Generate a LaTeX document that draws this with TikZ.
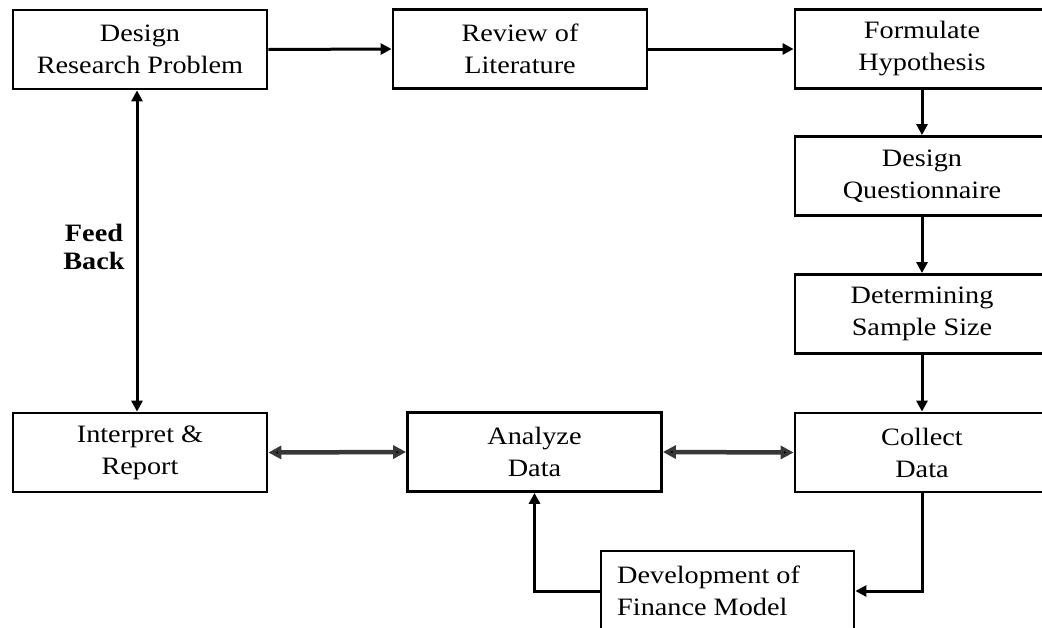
\documentclass[tikz,border=0pt]{standalone}
\usepackage{fontspec}
\setmainfont{Liberation Serif}[FakeStretch=1.13]
\usetikzlibrary{arrows.meta}
\begin{document}
\begin{tikzpicture}[x=1pt,y=-1pt,
  box/.style={draw, line width=2.8pt, minimum width=254pt, minimum height=79pt,
    align=center, inner sep=0pt, font=\fontsize{25}{32}\selectfont},
  con/.style={line width=3pt, -{Triangle[length=11pt,width=11pt]}},
  dbl/.style={line width=4.5pt, draw=black!78,
    {Triangle[length=13pt,width=13pt,fill=black]}-{Triangle[length=13pt,width=13pt,fill=black]}},
  vdbl/.style={line width=3pt,
    {Triangle[length=11pt,width=11pt]}-{Triangle[length=11pt,width=11pt]}},
  lbl/.style={align=center, inner sep=0pt, font=\fontsize{25}{28}\selectfont\bfseries}]
\clip (0,0) rectangle (1042,627);
\fill[white] (0,0) rectangle (1042,627);
\node[box] (A) at (140,49.5) {Design\\Research Problem};
\node[box] (B) at (520,49) {Review of\\Literature};
\node[box] (C) at (922,49) {Formulate\\Hypothesis};
\node[box] (D) at (922,176) {Design\\Questionnaire};
\node[box] (E) at (922,314) {Determining\\Sample Size};
\node[box] (G) at (922,452.5) {Collect\\Data};
\node[box] (H) at (534.5,452) {Analyze\\Data};
\node[box] (I) at (140,452.5) {Interpret \&\\Report};
\node[draw, line width=2.8pt, minimum width=253pt, minimum height=80pt, inner sep=0pt] (F) at (727.5,591) {};
\node[anchor=north west, align=left, inner sep=0pt, font=\fontsize{25}{32}\selectfont] (Ft) at (617,566) {Development of\\Finance Model};
\node[lbl] (fb) at (94,247) {Feed\\Back};
\draw[con] (A.east) -- (B.west);
\draw[con] (B.east) -- (C.west);
\draw[con] (C.south) -- (D.north);
\draw[con] (D.south) -- (E.north);
\draw[con] (E.south) -- (G.north);
\draw[dbl] (I.east) -- (H.west);
\draw[dbl] (H.east) -- (G.west);
\draw[vdbl] ([xshift=-3pt]A.south) -- ([xshift=-3pt]I.north);
\draw[con] (G.south) |- (F.east);
\draw[con] (F.west) -| (H.south);
\end{tikzpicture}
\end{document}
